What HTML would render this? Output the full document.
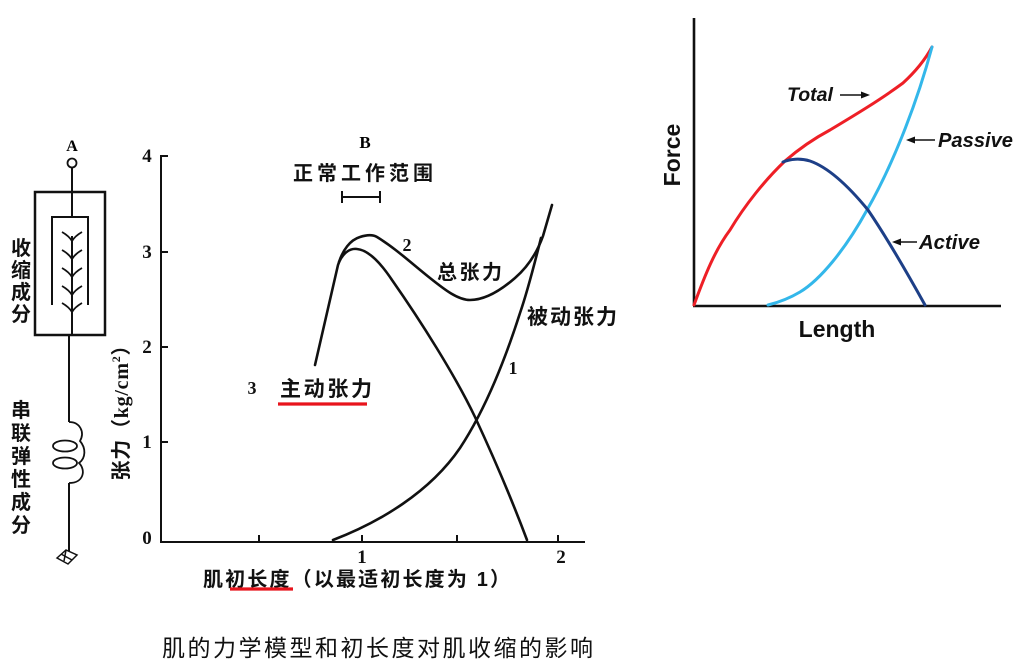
<!DOCTYPE html>
<html><head><meta charset="utf-8"><style>
html,body{margin:0;padding:0;background:#fff;}
svg{display:block;}
.cjk{font-family:"Liberation Sans","Noto Sans CJK SC",sans-serif;}
.ser{font-family:"Liberation Serif","Noto Serif CJK SC",serif;font-weight:bold;}
.sans{font-family:"Liberation Sans",sans-serif;font-weight:bold;}
</style></head><body>
<svg width="1020" height="662" viewBox="0 0 1020 662" xmlns="http://www.w3.org/2000/svg">
<rect width="1020" height="662" fill="#fff"/>

<!-- ===== Left model diagram ===== -->
<g stroke="#111" fill="none" stroke-width="2">
  <circle cx="72" cy="163" r="4.5" stroke-width="1.8"/>
  <line x1="72" y1="168" x2="72" y2="217"/>
  <rect x="35" y="192" width="70" height="143" stroke-width="2.5"/>
  <path d="M52,305 L52,217 L88,217 L88,305"/>
  <line x1="72" y1="236" x2="72" y2="335"/>
  <line x1="69" y1="335" x2="69" y2="422"/>
  <g stroke-width="1.8">
    <path d="M62,232 Q69,236 72,241 Q75,236 82,232"/>
    <path d="M62,250 Q69,254 72,259 Q75,254 82,250"/>
    <path d="M62,268 Q69,272 72,277 Q75,272 82,268"/>
    <path d="M62,286 Q69,290 72,295 Q75,290 82,286"/>
    <path d="M62,303 Q69,307 72,312 Q75,307 82,303"/>
  </g>
  <!-- spring -->
  <path d="M69,422 C80,422 85,432 80,441 C86,448 86,458 79,463 C86,470 84,483 69,483" stroke-width="1.8"/>
  <ellipse cx="65" cy="446" rx="12" ry="5.5" stroke-width="1.8"/>
  <ellipse cx="65" cy="463" rx="12" ry="5.5" stroke-width="1.8"/>
  <line x1="69" y1="483" x2="69" y2="551"/>
  <!-- ground -->
  <g stroke-width="1.5">
    <polygon points="57,558 66,550 77,555 68,564"/>
    <line x1="61" y1="554" x2="72" y2="560"/>
    <line x1="66" y1="550" x2="64" y2="561"/>
  </g>
</g>
<text x="72" y="151" text-anchor="middle" class="ser" font-size="16">A</text>
<g class="cjk" font-size="20" font-weight="bold" text-anchor="middle" fill="#111">
  <text x="21" y="255">收</text>
  <text x="21" y="277">缩</text>
  <text x="21" y="299">成</text>
  <text x="21" y="321">分</text>
  <text x="21" y="417">串</text>
  <text x="21" y="440">联</text>
  <text x="21" y="463">弹</text>
  <text x="21" y="486">性</text>
  <text x="21" y="509">成</text>
  <text x="21" y="532">分</text>
</g>

<!-- ===== Left chart ===== -->
<g stroke="#111" stroke-width="2" fill="none">
  <line x1="161" y1="155" x2="161" y2="542"/>
  <line x1="160" y1="542" x2="585" y2="542"/>
  <line x1="161" y1="156" x2="168" y2="156"/>
  <line x1="161" y1="252" x2="168" y2="252"/>
  <line x1="161" y1="347" x2="168" y2="347"/>
  <line x1="161" y1="442" x2="168" y2="442"/>
  <line x1="259" y1="542" x2="259" y2="535"/>
  <line x1="362" y1="542" x2="362" y2="535"/>
  <line x1="457" y1="542" x2="457" y2="535"/>
  <line x1="558" y1="542" x2="558" y2="535"/>
</g>
<g class="ser" font-size="19" text-anchor="middle" fill="#111">
  <text x="147" y="162">4</text>
  <text x="147" y="258">3</text>
  <text x="147" y="353">2</text>
  <text x="147" y="448">1</text>
  <text x="147" y="544">0</text>
  <text x="362" y="563">1</text>
  <text x="561" y="563">2</text>
</g>

<!-- curves -->
<g stroke="#111" stroke-width="2.6" fill="none" stroke-linecap="round" stroke-linejoin="round">
  <!-- active -->
  <path d="M315,365 L338,265 C342,253 350,248 357,249 C368,250 380,262 392,280 C420,320 455,375 475,417 C495,460 512,500 527,540"/>
  <!-- total -->
  <path d="M339,262 C343,250 350,240 360,237 C366,235 372,234 377,237 C395,248 410,262 430,278 C445,290 458,300 470,300 C485,300 500,291 515,278 C530,265 538,250 543,236 L552,205"/>
  <!-- passive -->
  <path d="M333,540 C380,522 430,492 460,448 C485,410 505,360 520,313 C528,290 535,262 541,238"/>
</g>

<!-- range bar -->
<g stroke="#111" stroke-width="2">
  <line x1="342" y1="197" x2="380" y2="197"/>
  <line x1="342" y1="191" x2="342" y2="203"/>
  <line x1="380" y1="191" x2="380" y2="203"/>
</g>
<text x="365" y="148" text-anchor="middle" class="ser" font-size="17">B</text>
<text x="293" y="180" class="cjk" font-size="20" font-weight="bold" textLength="140" lengthAdjust="spacing" fill="#111">正常工作范围</text>

<g class="ser" font-size="18" text-anchor="middle" fill="#111">
  <text x="407" y="251">2</text>
  <text x="513" y="374">1</text>
  <text x="252" y="394">3</text>
</g>
<text x="437" y="279" class="cjk" font-size="20" font-weight="bold" textLength="65" lengthAdjust="spacing" fill="#111">总张力</text>
<text x="527" y="324" class="cjk" font-size="21" font-weight="bold" textLength="90" lengthAdjust="spacing" fill="#111">被动张力</text>
<text x="280" y="396" class="cjk" font-size="21" font-weight="bold" textLength="92" lengthAdjust="spacing" fill="#111">主动张力</text>
<line x1="278" y1="404" x2="367" y2="404" stroke="#e8141c" stroke-width="3.2"/>

<!-- y label -->
<text transform="translate(128,408) rotate(-90)" text-anchor="middle" class="cjk" font-size="20" font-weight="bold" fill="#111" textLength="145" lengthAdjust="spacing">张力（<tspan class="ser">kg/cm</tspan><tspan class="ser" font-size="12" dy="-8">2</tspan><tspan dy="8">）</tspan></text>

<!-- x label -->
<text x="203" y="586" class="cjk" font-size="20" font-weight="bold" textLength="307" lengthAdjust="spacing" fill="#111">肌初长度（以最适初长度为 1）</text>
<line x1="230" y1="589" x2="293" y2="589" stroke="#e8141c" stroke-width="3.2"/>

<!-- caption -->
<text x="162" y="656" class="cjk" font-size="23" textLength="431" lengthAdjust="spacing" fill="#111">肌的力学模型和初长度对肌收缩的影响</text>

<!-- ===== Right chart ===== -->
<g stroke="#111" stroke-width="2.6" fill="none">
  <line x1="694" y1="18" x2="694" y2="306"/>
  <line x1="693" y1="306" x2="1001" y2="306"/>
</g>
<g fill="none" stroke-width="3" stroke-linecap="round" stroke-linejoin="round">
  <path d="M694,305 C705,275 715,250 730,230 C745,205 765,180 785,161 C800,148 815,138 830,130 C855,115 880,100 903,83 C915,72 925,60 932,47" stroke="#ee1f26"/>
  <path d="M768,305 C780,302 790,298 800,292 C820,280 845,250 867,210 C890,170 915,110 932,47" stroke="#33b7ea"/>
  <path d="M783,162 C790,159 800,158 810,161 C830,168 850,188 868,210 C885,235 900,260 925,305" stroke="#1d3f87"/>
</g>
<!-- arrows -->
<g stroke="#111" stroke-width="1.6" fill="#111">
  <line x1="840" y1="95" x2="862" y2="95"/>
  <polygon points="870,95 861,91.5 861,98.5" stroke="none"/>
  <line x1="914" y1="140" x2="935" y2="140"/>
  <polygon points="906,140 915,136.5 915,143.5" stroke="none"/>
  <line x1="900" y1="242" x2="917" y2="242"/>
  <polygon points="892,242 901,238.5 901,245.5" stroke="none"/>
</g>
<g class="sans" font-style="italic" fill="#111">
  <text x="787" y="101" font-size="19" textLength="46" lengthAdjust="spacingAndGlyphs">Total</text>
  <text x="938" y="147" font-size="20" textLength="75" lengthAdjust="spacingAndGlyphs">Passive</text>
  <text x="919" y="249" font-size="20" textLength="61" lengthAdjust="spacingAndGlyphs">Active</text>
</g>
<text x="837" y="337" text-anchor="middle" class="sans" font-size="23" fill="#111">Length</text>
<text transform="translate(680,155) rotate(-90)" text-anchor="middle" class="sans" font-size="23" fill="#111">Force</text>
</svg>
</body></html>
